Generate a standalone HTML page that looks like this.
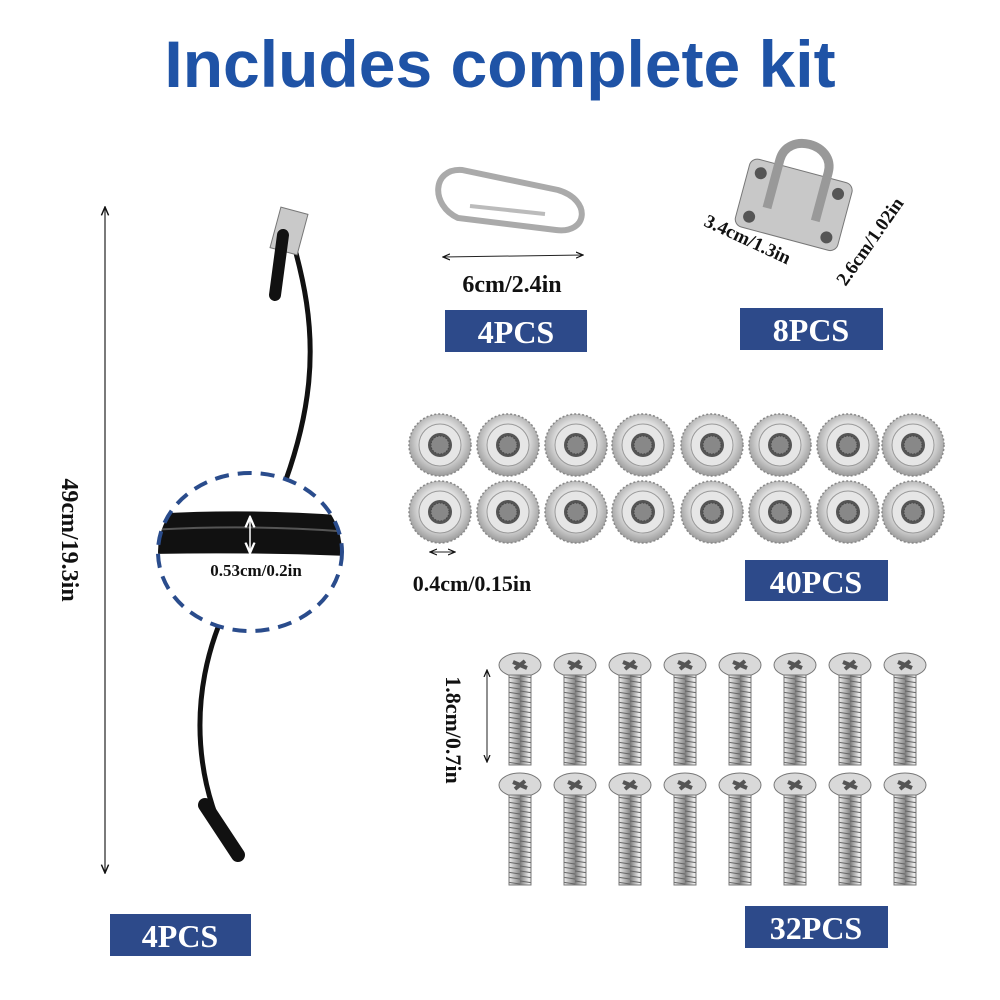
<!DOCTYPE html>
<html><head><meta charset="utf-8"><style>
html,body{margin:0;padding:0;background:#fff;width:1000px;height:1000px;overflow:hidden}
svg{display:block}
.t{font-family:"Liberation Serif",serif;font-weight:bold;fill:#111}
.b{font-family:"Liberation Serif",serif;font-weight:bold;fill:#fff;font-size:32px}
</style></head><body>
<svg width="1000" height="1000" viewBox="0 0 1000 1000" xmlns="http://www.w3.org/2000/svg">
<defs>
<radialGradient id="nut" cx="50%" cy="45%" r="55%"><stop offset="0" stop-color="#ffffff"/><stop offset="0.6" stop-color="#dedede"/><stop offset="1" stop-color="#9a9a9a"/></radialGradient>
<linearGradient id="shaft" x1="0" x2="1"><stop offset="0" stop-color="#777"/><stop offset="0.45" stop-color="#eee"/><stop offset="1" stop-color="#888"/></linearGradient>
<pattern id="thr" width="20" height="5" patternUnits="userSpaceOnUse"><rect width="20" height="5" fill="url(#shaft)"/><line x1="0" y1="1" x2="20" y2="4" stroke="#666" stroke-width="1"/></pattern>
<marker id="ar" markerWidth="8" markerHeight="8" refX="7" refY="4" orient="auto-start-reverse"><path d="M0,1 L7,4 L0,7" fill="none" stroke="#111" stroke-width="1.2"/></marker>
<marker id="arw" markerWidth="8" markerHeight="8" refX="7" refY="4" orient="auto-start-reverse"><path d="M0,1 L7,4 L0,7" fill="none" stroke="#fff" stroke-width="1.5"/></marker>
<clipPath id="cc"><ellipse cx="250" cy="552" rx="92" ry="79"/></clipPath>
<g id="n"><circle r="31" fill="url(#nut)" stroke="#888" stroke-width="1.5" stroke-dasharray="2 2"/><circle r="21" fill="#e6e6e6" stroke="#999"/><circle r="12" fill="#555"/><circle r="9" fill="#888" stroke="#444" stroke-dasharray="1.5 1.5"/></g>
<g id="s"><ellipse cx="0" cy="0" rx="21" ry="12" fill="#d9d9d9" stroke="#777"/><path d="M-7,-3 L7,3 M-5,4 L5,-4" stroke="#555" stroke-width="4"/><rect x="-11" y="10" width="22" height="90" fill="url(#thr)" stroke="#777"/></g>
</defs>

<text x="500" y="87" text-anchor="middle" font-family="Liberation Sans,sans-serif" font-weight="bold" font-size="66" fill="#1f53a6">Includes complete kit</text>

<!-- cable -->
<line x1="105" y1="207" x2="105" y2="873" stroke="#222" stroke-width="1.2" marker-start="url(#ar)" marker-end="url(#ar)"/>
<text class="t" font-size="24" transform="translate(62,540) rotate(90)" text-anchor="middle">49cm/19.3in</text>
<path d="M288,225 C320,330 330,420 230,600 C180,700 200,800 235,855" fill="none" stroke="#111" stroke-width="5"/>
<rect x="275" y="210" width="28" height="42" fill="#c9c9c9" stroke="#777" transform="rotate(15 289 231)"/>
<path d="M283,235 L275,295" stroke="#111" stroke-width="12" stroke-linecap="round"/>
<path d="M205,805 L238,855" stroke="#111" stroke-width="14" stroke-linecap="round"/>
<ellipse cx="250" cy="552" rx="92" ry="79" fill="#fff"/>
<g clip-path="url(#cc)"><path d="M150,514 Q250,508 350,516 L350,556 Q250,552 150,554 Z" fill="#111"/><path d="M150,530 Q250,524 350,532" stroke="#555" stroke-width="2" fill="none"/></g>
<ellipse cx="250" cy="552" rx="92" ry="79" fill="none" stroke="#2a4c8c" stroke-width="4" stroke-dasharray="14 9"/>
<line x1="250" y1="517" x2="250" y2="553" stroke="#fff" stroke-width="1.5" marker-start="url(#arw)" marker-end="url(#arw)"/>
<text class="t" font-size="17" x="256" y="576" text-anchor="middle">0.53cm/0.2in</text>
<rect x="110" y="914" width="141" height="42" fill="#2d4a8a"/><text class="b" x="180" y="947" text-anchor="middle">4PCS</text>

<!-- carabiner -->
<path d="M458,218 C430,205 432,168 462,170 L558,190 C592,200 588,234 556,230 Z" fill="none" stroke="#aaa" stroke-width="6"/>
<path d="M470,206 L545,214" stroke="#bbb" stroke-width="4"/>
<line x1="443" y1="257" x2="583" y2="255" stroke="#222" marker-start="url(#ar)" marker-end="url(#ar)"/>
<text class="t" font-size="24" x="512" y="292" text-anchor="middle">6cm/2.4in</text>
<rect x="445" y="310" width="142" height="42" fill="#2d4a8a"/><text class="b" x="516" y="343" text-anchor="middle">4PCS</text>

<!-- pad eye -->
<g transform="rotate(15 795 200)"><rect x="742" y="170" width="106" height="70" rx="8" fill="#c8c8c8" stroke="#777"/><path d="M770,215 L770,165 C770,135 820,135 820,165 L820,215" fill="none" stroke="#999" stroke-width="9"/><circle cx="755" cy="183" r="6" fill="#555"/><circle cx="835" cy="183" r="6" fill="#555"/><circle cx="755" cy="228" r="6" fill="#555"/><circle cx="835" cy="228" r="6" fill="#555"/></g>
<text class="t" font-size="19" transform="translate(745,245) rotate(25)" text-anchor="middle">3.4cm/1.3in</text>
<text class="t" font-size="19" transform="translate(875,245) rotate(-55)" text-anchor="middle">2.6cm/1.02in</text>
<rect x="740" y="308" width="143" height="42" fill="#2d4a8a"/><text class="b" x="811" y="341" text-anchor="middle">8PCS</text>

<!-- nuts -->
<g>
<use href="#n" x="440" y="445"/><use href="#n" x="508" y="445"/><use href="#n" x="576" y="445"/><use href="#n" x="643" y="445"/><use href="#n" x="712" y="445"/><use href="#n" x="780" y="445"/><use href="#n" x="848" y="445"/><use href="#n" x="913" y="445"/>
<use href="#n" x="440" y="512"/><use href="#n" x="508" y="512"/><use href="#n" x="576" y="512"/><use href="#n" x="643" y="512"/><use href="#n" x="712" y="512"/><use href="#n" x="780" y="512"/><use href="#n" x="848" y="512"/><use href="#n" x="913" y="512"/>
</g>
<line x1="430" y1="552" x2="455" y2="552" stroke="#222" marker-start="url(#ar)" marker-end="url(#ar)"/>
<text class="t" font-size="22" x="472" y="591" text-anchor="middle">0.4cm/0.15in</text>
<rect x="745" y="560" width="143" height="41" fill="#2d4a8a"/><text class="b" x="816" y="593" text-anchor="middle">40PCS</text>

<!-- screws -->
<g>
<use href="#s" x="520" y="665"/><use href="#s" x="575" y="665"/><use href="#s" x="630" y="665"/><use href="#s" x="685" y="665"/><use href="#s" x="740" y="665"/><use href="#s" x="795" y="665"/><use href="#s" x="850" y="665"/><use href="#s" x="905" y="665"/>
<use href="#s" x="520" y="785"/><use href="#s" x="575" y="785"/><use href="#s" x="630" y="785"/><use href="#s" x="685" y="785"/><use href="#s" x="740" y="785"/><use href="#s" x="795" y="785"/><use href="#s" x="850" y="785"/><use href="#s" x="905" y="785"/>
</g>
<line x1="487" y1="670" x2="487" y2="762" stroke="#222" marker-start="url(#ar)" marker-end="url(#ar)"/>
<text class="t" font-size="22" transform="translate(446,730) rotate(90)" text-anchor="middle">1.8cm/0.7in</text>
<rect x="745" y="906" width="143" height="42" fill="#2d4a8a"/><text class="b" x="816" y="939" text-anchor="middle">32PCS</text>
</svg>
</body></html>
